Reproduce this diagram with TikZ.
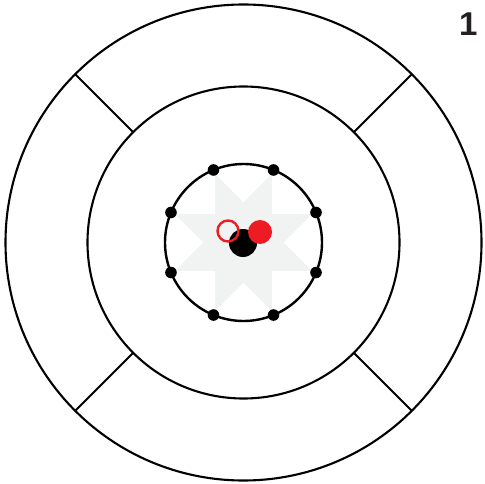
\documentclass[tikz,border=0pt]{standalone}
\usepackage{fontspec}
\setmainfont{Liberation Sans}
\definecolor{ptred}{RGB}{237,28,36}
\definecolor{stargray}{RGB}{241,242,242}
\definecolor{textgray}{RGB}{35,31,32}
\tikzset{
  ring/.style={draw=black, line width=2.1pt},
  spoke/.style={draw=black, line width=2.1pt},
  rimdot/.style={fill=black},
}
\begin{document}
\begin{tikzpicture}[x=1pt, y=-1pt]
    \useasboundingbox (0,0) rectangle (485,484);
    \coordinate (o) at (243.5,242.5);
    % 星形の領域
    \fill[stargray, shift={(o)}]
      (22.5:74) -- (45:40) -- (67.5:74) -- (90:40) -- (112.5:74) -- (135:40)
      -- (157.5:74) -- (180:40) -- (202.5:74) -- (225:40) -- (247.5:74)
      -- (270:40) -- (292.5:74) -- (315:40) -- (337.5:74) -- (0:40) -- cycle;
    % 同心円
    \draw[ring] (o) circle[radius=238];
    \draw[ring] (o) circle[radius=156];
    \draw[ring, line width=2.4pt] (o) circle[radius=78.5];
    % 仕切り線
    \foreach \a in {45,135,225,315}
      \draw[spoke, shift={(o)}] (\a:156) -- (\a:238);
    % 円周上の点
    \foreach \a [count=\i] in {22.5,67.5,...,337.5}
      \fill[rimdot, shift={(o)}] (\a:78.5) coordinate (p\i) circle[radius=5.8];
    % 中心の点
    \fill[black] (243,243) circle[radius=14];
    \fill[ptred] (260,232) circle[radius=12];
    \draw[ptred, line width=2.4pt] (228,231) circle[radius=10.5];
    \node[anchor=base west, inner sep=0pt, text=textgray,
          font=\fontsize{33}{33}\selectfont\bfseries] (num) at (459,36) {1};
  \end{tikzpicture}
\end{document}
